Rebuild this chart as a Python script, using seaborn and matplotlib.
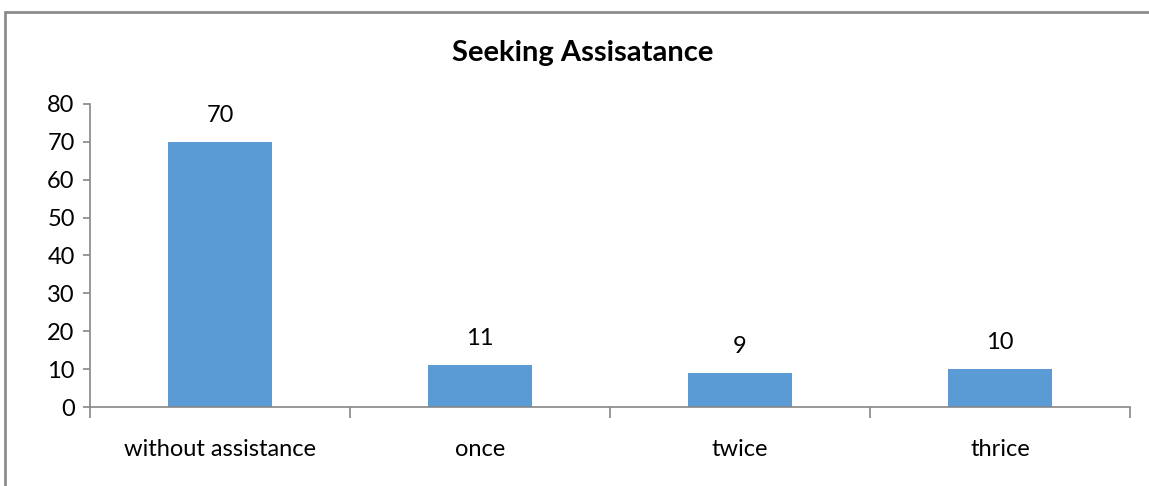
import matplotlib
matplotlib.use("Agg")
import matplotlib.pyplot as plt
import seaborn as sns
import pandas as pd

categories = ["without assistance", "once", "twice", "thrice"]
values = [70, 11, 9, 10]
y_ticks = [0, 10, 20, 30, 40, 50, 60, 70, 80]
title = "Seeking Assisatance"

sns.set_theme(style="white")
plt.rcParams["font.family"] = ["Lato", "DejaVu Sans"]

df = pd.DataFrame({"category": categories, "value": values})

W, H, DPI = 1149, 486, 100
fig = plt.figure(figsize=(W / DPI, H / DPI), dpi=DPI)
ax = fig.add_axes([90 / W, 1 - 407 / H, (1130 - 90) / W, (407 - 104) / H])

sns.barplot(data=df, x="category", y="value", color="#5B9BD5", width=0.4,
            saturation=1, linewidth=0, ax=ax)

axis_gray = "#868686"
ax.set_xlim(-0.5, len(categories) - 0.5)
ax.set_ylim(0, 80)
ax.set_yticks(y_ticks)
ax.set_xlabel("")
ax.set_ylabel("")
for side in ("top", "right"):
    ax.spines[side].set_visible(False)
for side in ("left", "bottom"):
    ax.spines[side].set_color(axis_gray)
    ax.spines[side].set_linewidth(1.2)

ax.tick_params(axis="y", which="major", left=True, length=5, width=1.2,
               color=axis_gray, labelsize=17, pad=6, labelcolor="black")
ax.tick_params(axis="x", which="major", bottom=False, labelsize=17, pad=17,
               labelcolor="black")
# category boundary ticks below the axis
ax.set_xticks([i - 0.5 for i in range(len(categories) + 1)], minor=True)
ax.tick_params(axis="x", which="minor", bottom=True, length=8, width=1.2,
               color=axis_gray)

for i, v in enumerate(values):
    ax.text(i, v + 7, str(v), ha="center", va="center", fontsize=17,
            color="black")

fig.text(583 / W, 1 - 53 / H, title, ha="center", va="center",
         fontsize=21, fontweight="bold", color="black")

# chart frame edges
fig.add_artist(plt.Line2D([5 / W, 5 / W], [0, 1 - 12 / H], transform=fig.transFigure,
                          color="#8c8c8c", linewidth=2))
fig.add_artist(plt.Line2D([5 / W, 1], [1 - 12 / H, 1 - 12 / H], transform=fig.transFigure,
                          color="#8c8c8c", linewidth=2))

fig.savefig("out.png", dpi=DPI)
